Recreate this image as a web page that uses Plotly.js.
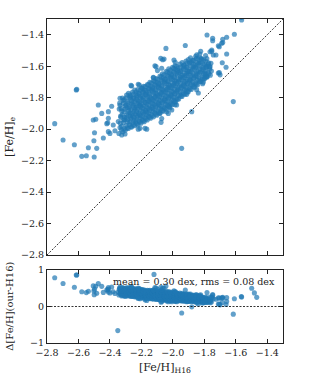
<!DOCTYPE html>
<html>
<head>
<meta charset="utf-8">
<script src="https://cdn.plot.ly/plotly-3.0.1.min.js"></script>
<style>html,body{margin:0;padding:0;background:#fff;}#chart{width:315px;height:385px;}</style>
</head>
<body>
<div id="chart"></div>
<script>
// [Fe/H] from H16 (x) and our [Fe/H]_e (y)
const h16 = [
-2.343,-2.336,-2.347,-2.332,-2.341,-2.338,
-2.318,-2.326,-2.313,-2.322,-2.329,-2.315,-2.321,
-2.302,-2.296,-2.308,-2.293,-2.305,-2.298,-2.309,-2.294,
-2.283,-2.276,-2.287,-2.272,-2.281,-2.277,-2.288,-2.274,-2.282,
-2.262,-2.255,-2.267,-2.258,-2.264,-2.253,-2.261,-2.268,-2.256,
-2.243,-2.236,-2.247,-2.238,-2.244,-2.232,-2.241,-2.248,-2.235,-2.242,
-2.222,-2.215,-2.227,-2.218,-2.224,-2.212,-2.221,-2.228,-2.216,-2.223,
-2.203,-2.196,-2.207,-2.193,-2.201,-2.208,-2.197,-2.204,-2.192,-2.199,
-2.182,-2.176,-2.187,-2.173,-2.184,-2.178,-2.189,-2.175,-2.181,-2.186,
-2.163,-2.155,-2.166,-2.158,-2.164,-2.152,-2.161,-2.168,-2.156,-2.162,
-2.142,-2.136,-2.147,-2.133,-2.144,-2.138,-2.149,-2.135,-2.141,-2.146,
-2.123,-2.115,-2.126,-2.118,-2.124,-2.112,-2.121,-2.128,-2.116,-2.122,
-2.102,-2.096,-2.107,-2.093,-2.104,-2.098,-2.109,-2.095,-2.101,-2.106,
-2.083,-2.075,-2.086,-2.078,-2.084,-2.072,-2.081,-2.088,-2.076,-2.082,
-2.062,-2.056,-2.067,-2.053,-2.064,-2.058,-2.069,-2.055,-2.061,-2.066,
-2.043,-2.035,-2.046,-2.038,-2.044,-2.032,-2.041,-2.048,-2.036,-2.042,
-2.022,-2.016,-2.027,-2.013,-2.024,-2.018,-2.029,-2.015,-2.021,-2.026,
-2.003,-1.995,-2.006,-1.998,-2.004,-1.992,-2.001,-2.008,-1.996,-2.002,
-1.982,-1.976,-1.987,-1.973,-1.984,-1.978,-1.989,-1.975,-1.981,-1.986,
-1.963,-1.955,-1.966,-1.958,-1.964,-1.952,-1.961,-1.968,-1.956,
-1.942,-1.936,-1.947,-1.933,-1.944,-1.938,-1.949,-1.935,-1.941,
-1.923,-1.915,-1.926,-1.918,-1.924,-1.912,-1.921,-1.928,-1.916,
-1.902,-1.896,-1.907,-1.893,-1.904,-1.898,-1.909,-1.895,-1.901,
-1.883,-1.875,-1.886,-1.878,-1.884,-1.872,-1.881,-1.888,
-1.862,-1.856,-1.867,-1.853,-1.864,-1.858,-1.869,-1.855,
-1.843,-1.835,-1.846,-1.838,-1.844,-1.832,-1.841,-1.848,
-1.822,-1.816,-1.827,-1.813,-1.824,-1.818,-1.829,
-1.803,-1.795,-1.806,-1.798,-1.804,-1.792,
-1.782,-1.776,-1.787,-1.773,-1.784,
-1.762,-1.755,-1.766,-1.758,
-2.327,-2.334,-2.331,-2.325,-2.336,
-2.309,-2.314,-2.306,-2.312,-2.303,-2.316,
-2.291,-2.287,-2.295,-2.284,-2.292,-2.286,-2.297,
-2.268,-2.274,-2.265,-2.271,-2.276,-2.264,-2.269,-2.273,
-2.251,-2.246,-2.254,-2.249,-2.244,-2.256,-2.248,-2.252,
-2.229,-2.234,-2.226,-2.231,-2.235,-2.225,-2.232,-2.227,-2.233,
-2.211,-2.206,-2.214,-2.209,-2.205,-2.213,-2.208,-2.215,-2.207,
-2.188,-2.194,-2.185,-2.191,-2.196,-2.186,-2.192,-2.189,-2.195,
-2.171,-2.166,-2.174,-2.168,-2.175,-2.165,-2.172,-2.169,-2.176,
-2.148,-2.154,-2.145,-2.151,-2.156,-2.146,-2.152,-2.149,-2.155,
-2.131,-2.126,-2.134,-2.128,-2.135,-2.125,-2.132,-2.129,-2.136,
-2.108,-2.114,-2.105,-2.111,-2.116,-2.106,-2.112,-2.109,-2.115,
-2.091,-2.086,-2.094,-2.088,-2.095,-2.085,-2.092,-2.089,-2.096,
-2.068,-2.074,-2.065,-2.071,-2.076,-2.066,-2.072,-2.069,-2.075,
-2.051,-2.046,-2.054,-2.048,-2.055,-2.045,-2.052,-2.049,-2.056,
-2.028,-2.034,-2.025,-2.031,-2.036,-2.026,-2.032,-2.029,-2.035,
-2.011,-2.006,-2.014,-2.008,-2.015,-2.005,-2.012,-2.009,-2.016,
-1.988,-1.994,-1.985,-1.991,-1.996,-1.986,-1.992,-1.989,-1.995,
-1.971,-1.966,-1.974,-1.968,-1.975,-1.965,-1.972,-1.969,-1.976,
-1.948,-1.954,-1.945,-1.951,-1.956,-1.946,-1.952,-1.949,
-1.931,-1.926,-1.934,-1.928,-1.935,-1.925,-1.932,-1.929,
-1.908,-1.914,-1.905,-1.911,-1.916,-1.906,-1.912,-1.909,
-1.891,-1.886,-1.894,-1.888,-1.895,-1.885,-1.892,
-1.868,-1.874,-1.865,-1.871,-1.876,-1.866,-1.872,
-1.851,-1.846,-1.854,-1.848,-1.855,-1.845,-1.852,
-1.828,-1.834,-1.825,-1.831,-1.836,-1.826,
-1.811,-1.806,-1.814,-1.808,-1.815,
-1.788,-1.794,-1.785,-1.791,
-1.771,-1.766,-1.774,
-2.751,-2.698,-2.614,-2.611,-2.626,-2.579,-2.550,-2.500,-2.537,-2.484,
-2.502,-2.498,-2.442,-2.474,-2.506,-2.490,-2.452,-2.410,-2.414,-2.420,
-2.389,-2.410,-2.400,-2.368,-2.379,-2.336,-2.410,-2.325,-2.304,-2.262,
-2.266,-2.213,-2.220,-2.209,-2.220,-2.177,-2.166,-2.124,-2.124,-2.114,
-2.107,-2.098,-2.071,-2.077,-2.056,-2.065,-2.044,-1.993,-1.985,-1.921,
-2.082,-2.071,-2.075,-2.039,-2.029,-2.018,-2.007,-1.986,-1.976,-1.944,
-1.912,-1.880,-1.849,-1.838,-1.807,-1.811,-1.796,-1.785,-1.796,-1.785,
-1.764,-1.705,-1.700,-1.662,-1.686,-1.711,-1.658,-1.726,-1.743,-1.753,
-1.764,-1.705,-1.690,-1.711,-1.683,-1.683,-1.658,-1.609,-1.747,-1.747,
-1.783,-1.563,-1.565,-1.616,-1.499,-1.482,-1.467,-2.350,-2.120,-1.823,
-1.753
];
const fehE = [
-2.028,-1.990,-1.952,-1.917,-1.872,-1.835,
-2.017,-1.982,-1.941,-1.909,-1.868,-1.836,-1.802,
-2.006,-1.977,-1.940,-1.911,-1.874,-1.846,-1.812,-1.783,
-1.996,-1.972,-1.940,-1.915,-1.884,-1.857,-1.826,-1.799,-1.772,
-1.987,-1.958,-1.933,-1.902,-1.876,-1.848,-1.819,-1.791,-1.764,
-1.978,-1.955,-1.927,-1.904,-1.876,-1.853,-1.826,-1.801,-1.778,-1.752,
-1.972,-1.948,-1.924,-1.897,-1.873,-1.849,-1.820,-1.797,-1.771,-1.748,
-1.962,-1.939,-1.913,-1.889,-1.862,-1.838,-1.812,-1.789,-1.761,-1.738,
-1.953,-1.927,-1.904,-1.878,-1.853,-1.829,-1.801,-1.778,-1.752,-1.727,
-1.942,-1.918,-1.893,-1.869,-1.842,-1.819,-1.793,-1.768,-1.742,-1.717,
-1.931,-1.906,-1.881,-1.853,-1.828,-1.803,-1.777,-1.751,-1.727,-1.702,
-1.922,-1.896,-1.871,-1.844,-1.819,-1.793,-1.767,-1.742,-1.717,-1.693,
-1.912,-1.885,-1.859,-1.832,-1.808,-1.781,-1.755,-1.729,-1.703,-1.678,
-1.898,-1.871,-1.846,-1.819,-1.792,-1.767,-1.741,-1.714,-1.688,-1.662,
-1.887,-1.861,-1.834,-1.807,-1.781,-1.753,-1.727,-1.699,-1.673,-1.648,
-1.873,-1.846,-1.819,-1.792,-1.765,-1.738,-1.711,-1.684,-1.658,-1.632,
-1.858,-1.831,-1.804,-1.778,-1.751,-1.723,-1.697,-1.670,-1.643,-1.617,
-1.843,-1.817,-1.790,-1.764,-1.737,-1.711,-1.685,-1.658,-1.632,-1.607,
-1.828,-1.802,-1.776,-1.750,-1.724,-1.698,-1.672,-1.647,-1.621,-1.597,
-1.808,-1.781,-1.752,-1.726,-1.697,-1.670,-1.641,-1.614,-1.587,
-1.793,-1.766,-1.738,-1.712,-1.685,-1.657,-1.631,-1.604,-1.577,
-1.778,-1.751,-1.725,-1.698,-1.672,-1.645,-1.619,-1.592,-1.567,
-1.763,-1.737,-1.711,-1.685,-1.659,-1.633,-1.607,-1.581,-1.557,
-1.748,-1.719,-1.690,-1.661,-1.633,-1.604,-1.575,-1.547,
-1.733,-1.705,-1.676,-1.648,-1.620,-1.592,-1.563,-1.537,
-1.718,-1.690,-1.663,-1.635,-1.607,-1.580,-1.553,-1.527,
-1.698,-1.669,-1.639,-1.609,-1.580,-1.551,-1.522,
-1.683,-1.652,-1.621,-1.590,-1.560,-1.532,
-1.668,-1.638,-1.609,-1.579,-1.552,
-1.657,-1.631,-1.605,-1.582,
-2.005,-1.962,-1.925,-1.884,-1.848,
-1.998,-1.958,-1.925,-1.889,-1.853,-1.818,
-1.992,-1.955,-1.927,-1.897,-1.862,-1.834,-1.801,
-1.985,-1.955,-1.926,-1.899,-1.867,-1.841,-1.809,-1.784,
-1.973,-1.946,-1.917,-1.889,-1.861,-1.834,-1.806,-1.779,
-1.966,-1.940,-1.914,-1.889,-1.862,-1.836,-1.811,-1.786,-1.762,
-1.955,-1.930,-1.905,-1.878,-1.853,-1.827,-1.802,-1.776,-1.752,
-1.946,-1.918,-1.893,-1.867,-1.842,-1.816,-1.790,-1.766,-1.740,
-1.935,-1.909,-1.884,-1.858,-1.831,-1.806,-1.781,-1.755,-1.730,
-1.925,-1.899,-1.872,-1.848,-1.822,-1.796,-1.769,-1.744,-1.719,
-1.915,-1.888,-1.862,-1.836,-1.810,-1.784,-1.758,-1.733,-1.707,
-1.905,-1.878,-1.851,-1.825,-1.799,-1.773,-1.747,-1.721,-1.696,
-1.894,-1.867,-1.840,-1.814,-1.787,-1.761,-1.735,-1.708,-1.683,
-1.881,-1.855,-1.828,-1.801,-1.774,-1.748,-1.721,-1.695,-1.668,
-1.868,-1.842,-1.815,-1.788,-1.761,-1.734,-1.707,-1.681,-1.655,
-1.854,-1.827,-1.800,-1.773,-1.746,-1.719,-1.692,-1.665,-1.638,
-1.840,-1.813,-1.786,-1.760,-1.733,-1.706,-1.679,-1.652,-1.626,
-1.826,-1.799,-1.773,-1.746,-1.720,-1.693,-1.667,-1.640,-1.614,
-1.810,-1.784,-1.758,-1.732,-1.706,-1.680,-1.654,-1.628,-1.603,
-1.790,-1.763,-1.737,-1.710,-1.684,-1.658,-1.631,-1.605,
-1.777,-1.750,-1.724,-1.698,-1.671,-1.645,-1.619,-1.592,
-1.763,-1.737,-1.711,-1.685,-1.659,-1.633,-1.607,-1.580,
-1.744,-1.716,-1.688,-1.660,-1.632,-1.604,-1.576,
-1.730,-1.702,-1.674,-1.646,-1.618,-1.590,-1.562,
-1.715,-1.688,-1.661,-1.634,-1.606,-1.578,-1.551,
-1.697,-1.668,-1.638,-1.608,-1.578,-1.548,
-1.680,-1.650,-1.619,-1.588,-1.557,
-1.664,-1.632,-1.600,-1.568,
-1.648,-1.617,-1.587,
-1.965,-2.069,-1.751,-1.747,-2.099,-2.173,-2.169,-2.177,-2.118,-2.122,
-2.074,-2.023,-2.056,-1.847,-1.942,-1.937,-1.900,-1.931,-1.959,-1.965,
-1.855,-2.016,-2.027,-2.010,-1.974,-1.804,-1.889,-2.037,-2.031,-1.726,
-1.722,-1.720,-1.715,-1.995,-2.000,-1.995,-2.000,-1.670,-1.673,-1.597,
-1.603,-1.628,-1.613,-1.550,-1.554,-1.559,-1.487,-1.561,-1.575,-1.468,
-1.900,-1.933,-1.957,-1.890,-1.900,-1.866,-1.878,-1.845,-1.847,-2.122,
-1.779,-1.889,-1.749,-1.770,-1.702,-1.712,-1.677,-1.667,-1.645,-1.603,
-1.603,-1.641,-1.655,-1.607,-1.578,-1.643,-1.522,-1.529,-1.529,-1.497,
-1.508,-1.476,-1.454,-1.470,-1.450,-1.429,-1.416,-1.397,-1.423,-1.438,
-1.402,-1.306,-1.290,-1.825,-1.000,-1.110,-1.217,-3.010,-1.240,-1.505,
-1.505
];
const delta = fehE.map((v, i) => v - h16[i]);
const axisRange = [-2.8, -1.3];
const deltaRange = [-1, 1];
const statsLabel = 'mean = 0.30 dex, rms = 0.08 dex';

const pointColor = 'rgba(31,119,180,0.7)';
const font = 'DejaVu Serif, serif';

const traces = [
  {x: h16, y: fehE, xaxis: 'x', yaxis: 'y', type: 'scatter', mode: 'markers',
   marker: {size: 5.1, color: pointColor, line: {width: 0}}, hoverinfo: 'skip'},
  {x: axisRange, y: axisRange, xaxis: 'x', yaxis: 'y', type: 'scatter', mode: 'lines',
   line: {color: '#000', width: 0.8, dash: '2px,1.5px'}, hoverinfo: 'skip'},
  {x: h16, y: delta, xaxis: 'x2', yaxis: 'y2', type: 'scatter', mode: 'markers',
   marker: {size: 5.1, color: pointColor, line: {width: 0}}, hoverinfo: 'skip'},
  {x: axisRange, y: [0, 0], xaxis: 'x2', yaxis: 'y2', type: 'scatter', mode: 'lines',
   line: {color: '#000', width: 0.8, dash: '2px,1.5px'}, hoverinfo: 'skip'}
];

const axBase = {
  showgrid: false, zeroline: false, showline: true, linecolor: '#222', linewidth: 1,
  ticks: 'inside', ticklen: 4, tickwidth: 1, tickcolor: '#222', mirror: 'ticks',
  tickfont: {family: font, size: 9.5, color: '#222'}
};

const layout = {
  width: 315, height: 385,
  margin: {l: 47, r: 32, t: 19, b: 42},
  paper_bgcolor: '#fff', plot_bgcolor: '#fff',
  showlegend: false,
  font: {family: font, size: 9.5, color: '#222'},
  xaxis: Object.assign({}, axBase, {domain: [0, 1], anchor: 'y', range: axisRange,
    tick0: -2.8, dtick: 0.2, showticklabels: false}),
  yaxis: Object.assign({}, axBase, {domain: [0.2716, 1], anchor: 'x', range: axisRange,
    tick0: -2.8, dtick: 0.2, tickformat: '.1f'}),
  xaxis2: Object.assign({}, axBase, {domain: [0, 1], anchor: 'y2', range: axisRange,
    tick0: -2.8, dtick: 0.2, tickformat: '.1f', ticklabelstandoff: 1}),
  yaxis2: Object.assign({}, axBase, {domain: [0, 0.2253], anchor: 'x2', range: deltaRange,
    tick0: -1, dtick: 1}),
  annotations: [
    {text: statsLabel, xref: 'paper', yref: 'paper', x: 0.976, y: 0.191,
     xanchor: 'right', yanchor: 'middle', showarrow: false,
     font: {family: font, size: 9.5, color: '#222'}},
    {text: '[Fe/H]<sub>e</sub>', xref: 'paper', yref: 'paper', x: -0.157, y: 0.636,
     xanchor: 'center', yanchor: 'middle', textangle: -90, showarrow: false,
     font: {family: font, size: 11, color: '#222'}},
    {text: 'Δ[Fe/H](our-H16)', xref: 'paper', yref: 'paper', x: -0.162, y: 0.114,
     xanchor: 'center', yanchor: 'middle', textangle: -90, showarrow: false,
     font: {family: font, size: 10, color: '#222'}},
    {text: '[Fe/H]<sub>H16</sub>', xref: 'paper', yref: 'paper', x: 0.5, y: -0.077,
     xanchor: 'center', yanchor: 'middle', showarrow: false,
     font: {family: font, size: 11, color: '#222'}}
  ]
};

Plotly.newPlot('chart', traces, layout, {displayModeBar: false, staticPlot: true});
</script>
</body>
</html>
